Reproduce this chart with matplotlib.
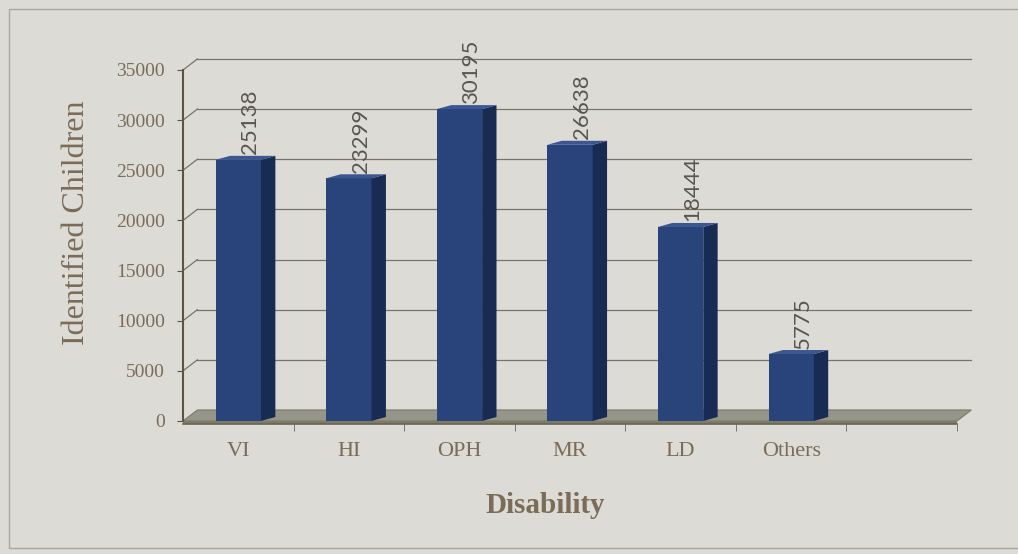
import matplotlib
matplotlib.use('Agg')
import matplotlib.pyplot as plt
from matplotlib.patches import Polygon, Rectangle
import numpy as np

categories = ['VI', 'HI', 'OPH', 'MR', 'LD', 'Others', '']
values = [25138, 23299, 30195, 26638, 18444, 5775]
y_ticks = [0, 5000, 10000, 15000, 20000, 25000, 30000, 35000]

BG = '#dcdbd5'
TEXT = '#7a6c58'
GRID = '#77756a'
FRONT = '#28447b'
SIDE = '#182b52'
TOP = '#3b5690'

# fake 3d depth (data units)
DX = 0.13
DY = 1100
BAR_W = 0.41
BAR_LIFT = 900   # bars are read against the back wall
TOP_DY = 400

fig = plt.figure(figsize=(10.18, 5.54), dpi=100)
fig.patch.set_facecolor(BG)
ax = fig.add_axes([0.1798, 0.2401, 0.7603, 0.6336])
ax.set_facecolor('none')

n = len(categories)
x0, x1 = -0.5, n - 0.5
ax.set_xlim(x0, x1)
ax.set_ylim(0, 35000)

# back wall grid + left wall connectors
for y in y_ticks[1:]:
    ax.plot([x0 + DX, x1 + DX], [y + DY, y + DY], color=GRID, lw=0.9, clip_on=False, zorder=1)
    ax.plot([x0, x0 + DX], [y, y + DY], color=GRID, lw=0.9, clip_on=False, zorder=1)

# floor
ax.add_patch(Polygon([(x0, 0), (x1, 0), (x1 + DX, DY), (x0 + DX, DY)],
                     closed=True, facecolor='#96958a', edgecolor='#7d7a68', lw=0.8,
                     clip_on=False, zorder=2))
ax.add_patch(Rectangle((x0, -300), x1 - x0, 300, facecolor='#7d7a68', edgecolor='none',
                       clip_on=False, zorder=2))

# bars
for i, v in enumerate(values):
    l = i - BAR_W / 2
    r = i + BAR_W / 2
    h = v + BAR_LIFT
    ax.add_patch(Rectangle((l, 0), BAR_W, h, facecolor=FRONT, edgecolor='none', zorder=4,
                           clip_on=False))
    ax.add_patch(Polygon([(r, 0), (r + DX, TOP_DY), (r + DX, h + TOP_DY), (r, h)],
                         closed=True, facecolor=SIDE, edgecolor='none', zorder=4, clip_on=False))
    ax.add_patch(Polygon([(l, h), (r, h), (r + DX, h + TOP_DY), (l + DX, h + TOP_DY)],
                         closed=True, facecolor=TOP, edgecolor='none', zorder=4, clip_on=False))
    ax.text(i + DX / 2 + 0.04, h + TOP_DY + 150, str(v), rotation=90, ha='center', va='bottom',
            fontsize=16, color='#58564f', family='Lato', zorder=5, clip_on=False)

# axes styling
for s in ['top', 'right']:
    ax.spines[s].set_visible(False)
ax.spines['left'].set_color('#5c5444')
ax.spines['left'].set_linewidth(1.5)
ax.spines['bottom'].set_color('#6a6452')
ax.spines['bottom'].set_linewidth(1.2)
ax.spines['bottom'].set_position(('data', -300))

ax.set_yticks(y_ticks)
ax.set_yticklabels([str(t) for t in y_ticks], family='Liberation Serif', fontsize=14, color=TEXT)
ax.tick_params(axis='y', length=4, color='#5c5444', pad=9)

ax.set_xticks(np.arange(n))
ax.set_xticklabels(categories, family='Liberation Serif', fontsize=16, color=TEXT)
ax.set_xticks(np.arange(n) + 0.5, minor=True)
ax.tick_params(axis='x', which='major', length=0, pad=13)
ax.tick_params(axis='x', which='minor', length=5, color='#6a6452')

fig.text(0.075, 0.598, 'Identified Children', rotation=90, ha='center', va='center',
         family='Liberation Serif', fontsize=23, color=TEXT)
fig.text(0.536, 0.088, 'Disability', ha='center', va='center',
         family='Liberation Serif', fontsize=21, fontweight='bold', color=TEXT)

# outer frame
fig.add_artist(Rectangle((0.009, 0.01), 1.2, 0.973, transform=fig.transFigure,
                         fill=False, edgecolor='#a9a79e', lw=1))

fig.savefig('out.png', dpi=100, facecolor=BG)
